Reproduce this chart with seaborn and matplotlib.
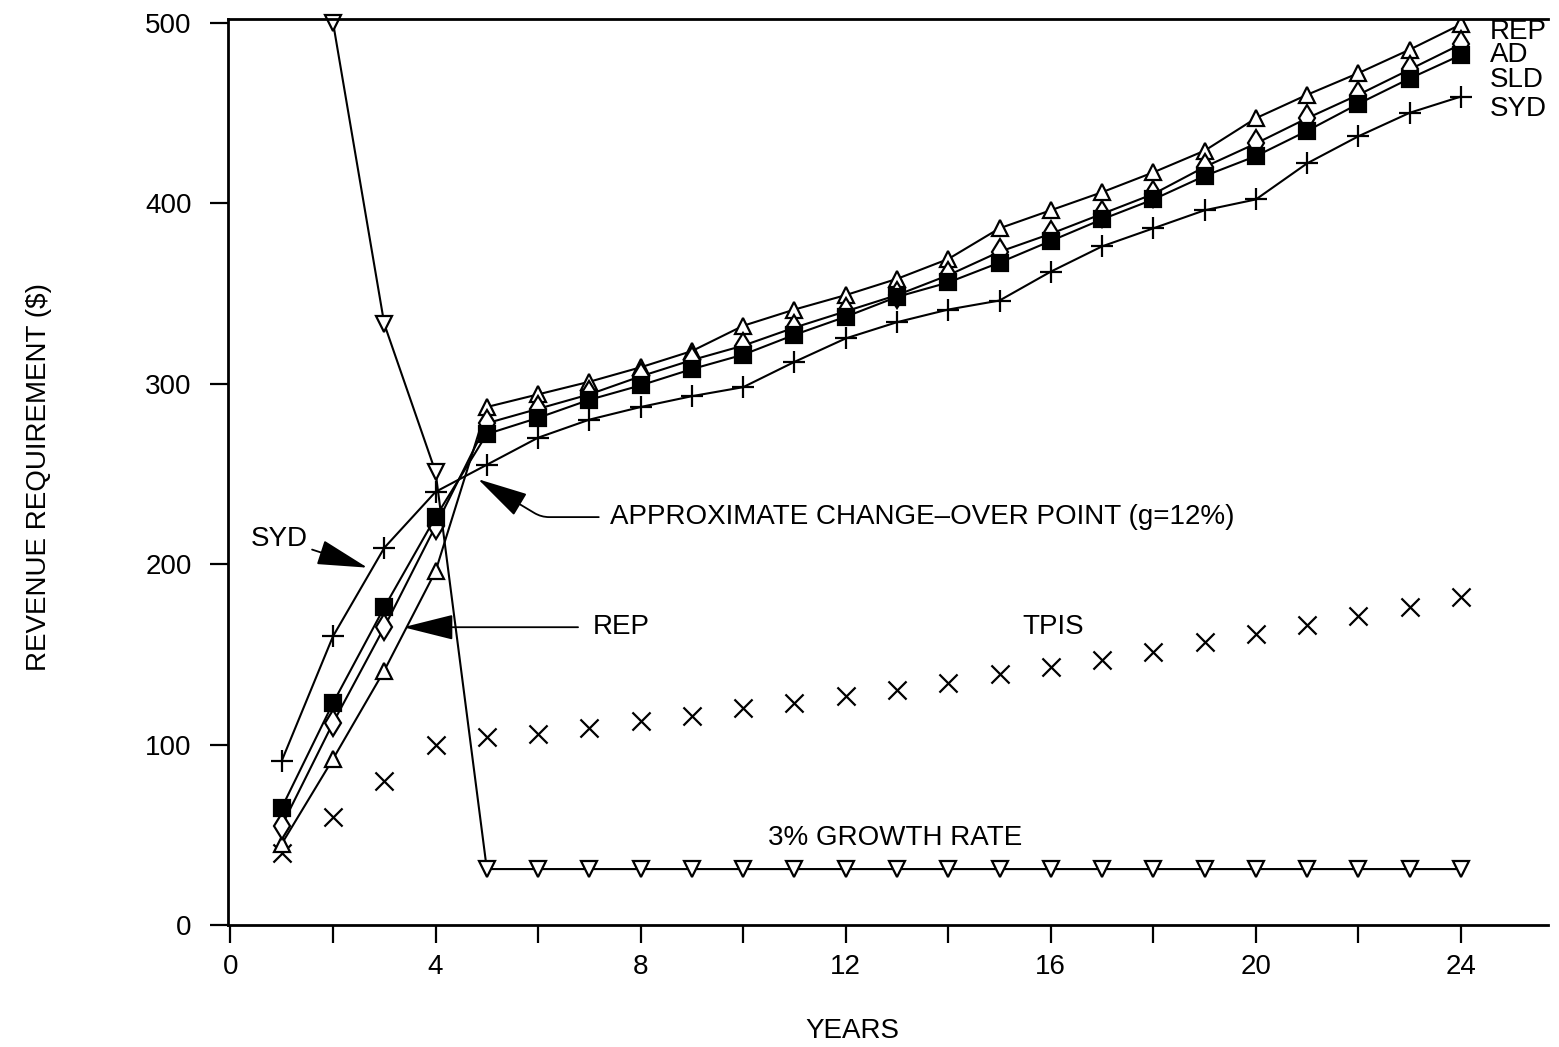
import seaborn as sns
import matplotlib.pyplot as plt
from matplotlib.ticker import MultipleLocator

# values
years = list(range(1, 25))
rep = [45, 92, 141, 196, 287, 294, 301, 309, 318, 332, 341, 349, 358, 369,
       386, 396, 406, 417, 429, 447, 460, 472, 485, 499]
ad = [55, 112, 165, 221, 278, 286, 294, 304, 313, 321, 331, 340, 349, 360,
      373, 383, 394, 405, 420, 433, 447, 460, 474, 488]
sld = [65, 123, 176, 226, 272, 281, 291, 299, 308, 316, 327, 337, 348, 356,
       367, 379, 391, 402, 415, 426, 440, 455, 469, 482]
syd = [91, 160, 209, 240, 255, 270, 280, 287, 293, 298, 312, 325, 334, 341,
       346, 362, 376, 386, 396, 402, 422, 437, 450, 459]
tpis = [40, 60, 80, 100, 104, 106, 109, 113, 116, 120, 123, 127, 130, 134,
        139, 143, 147, 151, 157, 161, 166, 171, 176, 182]
growth_years = list(range(2, 25))
growth3 = [500, 333, 251, 31, 31, 31, 31, 31, 31, 31, 31, 31, 31, 31, 31,
           31, 31, 31, 31, 31, 31, 31, 31]

sns.set_style("ticks")
plt.rcParams['font.family'] = ['Liberation Sans', 'DejaVu Sans']
plt.rcParams.update({"text.color": "black", "axes.labelcolor": "black",
                     "xtick.color": "black", "ytick.color": "black"})

FS = 20

fig = plt.figure(figsize=(15.59, 10.47), dpi=100)
ax = fig.add_axes([0.1462, 0.1165, 0.8468, 0.8654])

line_kw = dict(color="black", lw=1.5, markeredgecolor="black", markeredgewidth=1.6)

sns.lineplot(x=years, y=rep, marker="^", markersize=12, markerfacecolor="white", ax=ax, **line_kw)
sns.lineplot(x=years, y=ad, marker="d", markersize=13, markerfacecolor="white", ax=ax, **line_kw)
sns.lineplot(x=years, y=sld, marker="s", markersize=11, markerfacecolor="black", ax=ax, **line_kw)
sns.lineplot(x=years, y=syd, marker="+", markersize=16, ax=ax, **line_kw)
sns.lineplot(x=growth_years, y=growth3, marker="v", markersize=12, markerfacecolor="white",
             ax=ax, clip_on=False, **line_kw)
sns.scatterplot(x=years, y=tpis, marker="x", s=170, color="black", linewidth=1.6, ax=ax)

ax.set_xlim(-0.05, 25.7)
ax.set_ylim(0, 502)
ax.xaxis.set_major_locator(MultipleLocator(4))
ax.xaxis.set_minor_locator(MultipleLocator(2))
ax.yaxis.set_major_locator(MultipleLocator(100))
ax.tick_params(axis="both", which="both", direction="out", length=13, width=1.6,
               labelsize=FS, color="black", labelcolor="black")
ax.tick_params(axis="x", pad=8)
ax.tick_params(axis="y", pad=13)

for side in ["left", "bottom", "top"]:
    ax.spines[side].set_linewidth(2)
    ax.spines[side].set_color("black")
ax.spines["right"].set_visible(False)

ax.set_xlabel("YEARS", fontsize=FS)
ax.xaxis.set_label_coords(0.473, -0.103)
ax.set_ylabel(r"REVENUE REQUIREMENT (\$)", fontsize=FS)
ax.yaxis.set_label_coords(-0.133, 0.494)

# series names at the right end
for label, yv in [("REP", 495), ("AD", 482), ("SLD", 468), ("SYD", 452)]:
    ax.text(24.56, yv, label, fontsize=FS, va="center", ha="left")

arrow = dict(arrowstyle="-|>,head_length=1.6,head_width=0.4", color="black",
             lw=1.3, mutation_scale=20, shrinkB=0)

ax.annotate("SYD", xy=(2.67, 198), xytext=(0.39, 214), fontsize=FS,
            va="center", ha="left", arrowprops=dict(arrow, shrinkA=1))
ax.annotate("REP", xy=(3.37, 165), xytext=(7.06, 165), fontsize=FS,
            va="center", ha="left", arrowprops=dict(arrow, shrinkA=8))
ax.annotate("APPROXIMATE CHANGE\u2013OVER POINT (g=12%)", xy=(4.83, 247),
            xytext=(7.41, 226), fontsize=FS, va="center", ha="left",
            arrowprops=dict(arrow, shrinkA=6,
                            connectionstyle="angle,angleA=0,angleB=-31,rad=8"))

ax.text(15.44, 165, "TPIS", fontsize=FS, va="center", ha="left")
ax.text(10.49, 48, "3% GROWTH RATE", fontsize=FS, va="center", ha="left")

fig.savefig("out.png", dpi=100)
